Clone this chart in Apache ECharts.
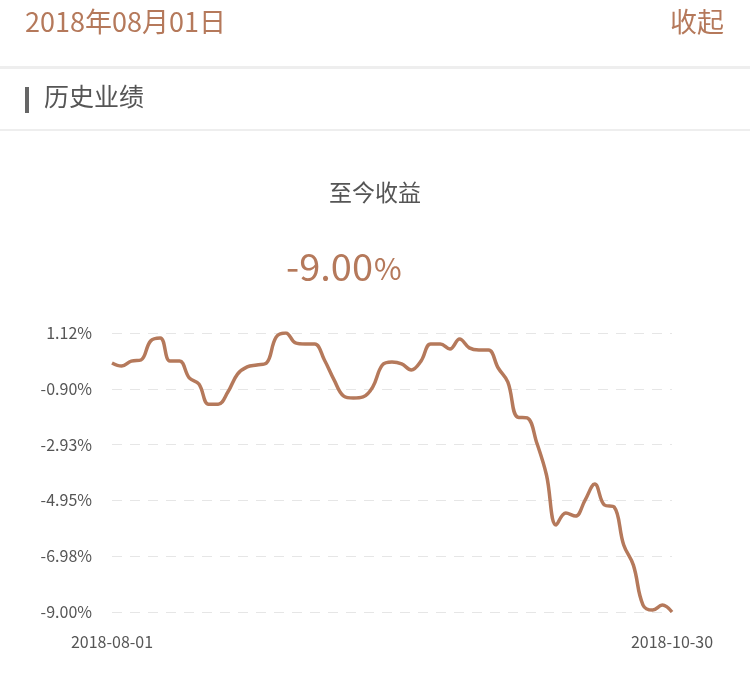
<!DOCTYPE html>
<html><head><meta charset="utf-8">
<script src="https://cdn.jsdelivr.net/npm/echarts@6/dist/echarts.min.js"></script>
<style>html,body{margin:0;padding:0;background:#fff}#c{width:750px;height:683px}</style>
</head><body><div id="c"></div>
<script>
const dates = ["2018-08-01","2018-08-02","2018-08-03","2018-08-06","2018-08-07","2018-08-08","2018-08-09","2018-08-10","2018-08-13","2018-08-14","2018-08-15","2018-08-16","2018-08-17","2018-08-20","2018-08-21","2018-08-22","2018-08-23","2018-08-24","2018-08-27","2018-08-28","2018-08-29","2018-08-30","2018-08-31",
"2018-09-03","2018-09-04","2018-09-05","2018-09-06","2018-09-07","2018-09-10","2018-09-11","2018-09-12","2018-09-13","2018-09-14","2018-09-17","2018-09-18","2018-09-19","2018-09-20","2018-09-21","2018-09-25","2018-09-26","2018-09-27","2018-09-28",
"2018-10-08","2018-10-09","2018-10-10","2018-10-11","2018-10-12","2018-10-15","2018-10-16","2018-10-17","2018-10-18","2018-10-19","2018-10-22","2018-10-23","2018-10-24","2018-10-25","2018-10-26","2018-10-29","2018-10-30"];
const returns = [0.03,-0.08,0.10,0.14,0.83,0.94,0.10,0.10,-0.51,-0.73,-1.46,-1.46,-1.02,-0.37,-0.11,-0.04,0.03,0.97,1.12,0.76,0.72,0.72,0.14,-0.58,-1.17,-1.24,-1.20,-0.84,-0.04,0.07,0.00,-0.22,0.10,0.72,0.72,0.54,0.90,0.58,0.50,0.50,-0.15,-0.66,-1.93,-1.96,-2.87,-4.03,-5.84,-5.41,-5.52,-4.94,-4.36,-5.12,-5.19,-6.57,-7.30,-8.75,-8.93,-8.75,-9.00];
const yMin = -9.00, yMax = 1.12, yStep = 2.024;
const headerDate = "2018年08月01日", collapseText = "收起", sectionTitle = "历史业绩", totalLabel = "至今收益", totalValue = "-9.00";
const brown = "#b5795b";
const chart = echarts.init(document.getElementById('c'));
const F = '"Noto Sans CJK SC","Noto Sans",sans-serif';
chart.setOption({
  animation:false,
  graphic:[
    {type:'text',left:25,top:8,style:{text:headerDate,fill:brown,font:'27px '+F}},
    {type:'text',right:26,top:8,style:{text:collapseText,fill:brown,font:'27px '+F}},
    {type:'rect',shape:{x:0,y:66,width:750,height:3},style:{fill:'#eeeeee'}},
    {type:'rect',shape:{x:25,y:87,width:4,height:26},style:{fill:'#666'}},
    {type:'text',left:44,top:84,style:{text:sectionTitle,fill:'#555',font:'25px '+F}},
    {type:'rect',shape:{x:0,y:129,width:750,height:2},style:{fill:'#eeeeee'}},
    {type:'text',x:375,y:192,style:{text:totalLabel,fill:'#555',font:'23px '+F,align:'center',verticalAlign:'middle'}},
    {type:'text',x:373,y:267,style:{text:totalValue,fill:brown,font:'38px '+F,align:'right',verticalAlign:'middle'}},
    {type:'text',x:374,y:269,style:{text:'%',fill:brown,font:'30px '+F,align:'left',verticalAlign:'middle'}}
  ],
  grid:{left:112,right:78,top:333,bottom:71,containLabel:false},
  xAxis:{type:'category',data:dates,boundaryGap:false,
    axisLine:{show:false},axisTick:{show:false},
    axisLabel:{color:'#555',fontSize:16,fontFamily:F,margin:22,
      interval:(i)=>i===0||i===dates.length-1,
      formatter:(v)=>v}},
  yAxis:{type:'value',min:yMin,max:yMax,interval:yStep,
    axisLine:{show:false},axisTick:{show:false},
    axisLabel:{color:'#555',fontSize:16,fontFamily:F,margin:20,formatter:(v)=>v.toFixed(2)+'%'},
    splitLine:{lineStyle:{color:'#e6e6e6',type:[10,8],width:1}}},
  series:[{type:'line',data:returns,smooth:0.4,showSymbol:false,
    lineStyle:{color:brown,width:3.5}}]
});
</script></body></html>
